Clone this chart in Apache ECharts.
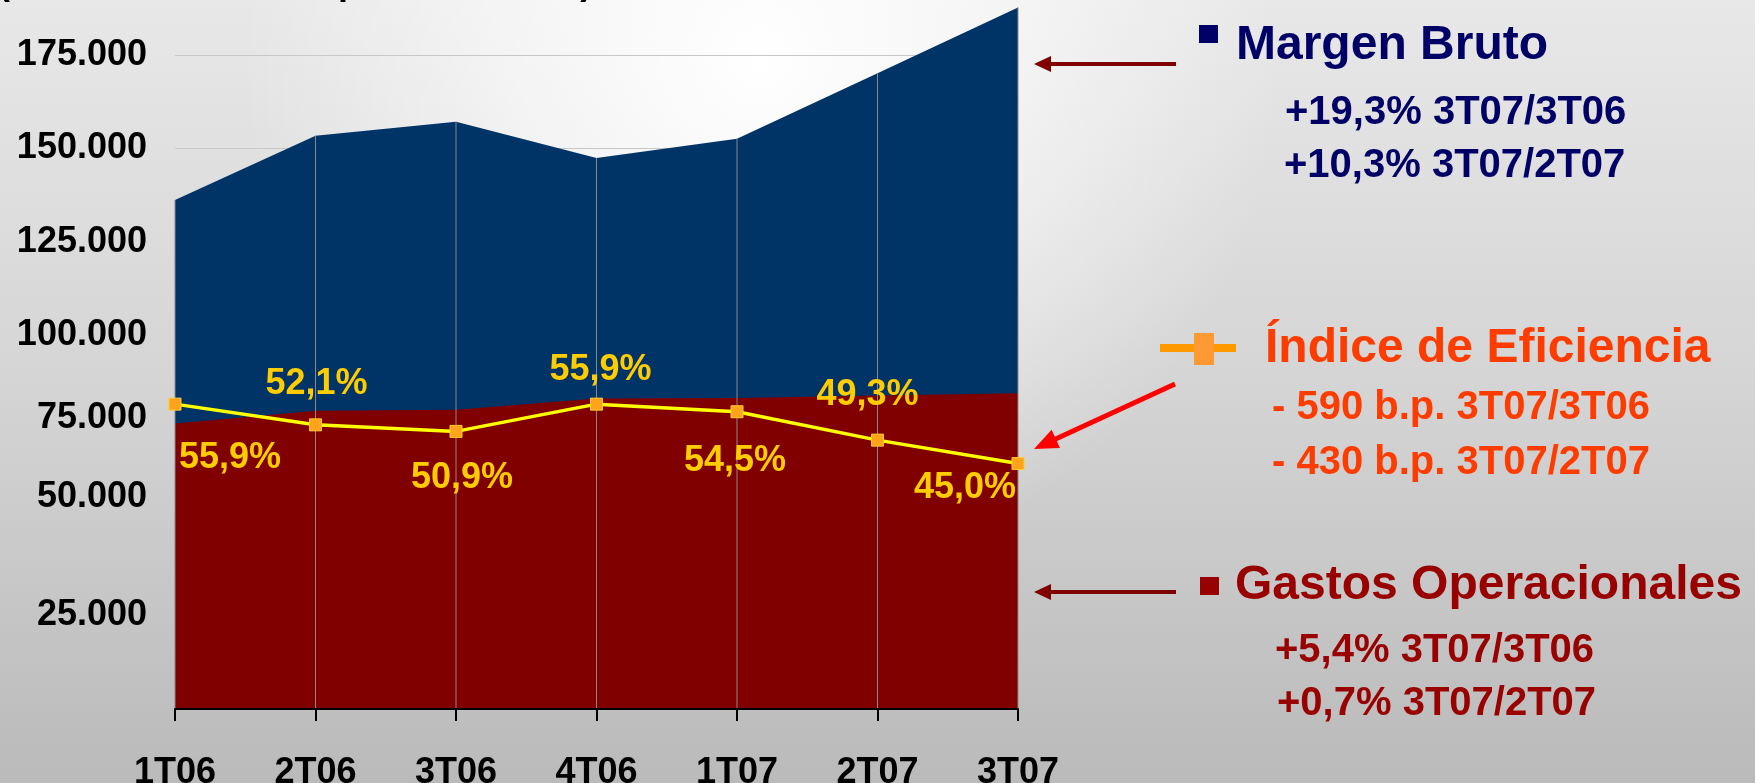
<!DOCTYPE html>
<html>
<head>
<meta charset="utf-8">
<title>Margen Bruto, Gastos Operacionales e Índice de Eficiencia</title>
<script src="https://cdn.jsdelivr.net/npm/echarts@6/dist/echarts.min.js"></script>
<style>
  html, body { margin: 0; padding: 0; }
  #chart { width: 1755px; height: 783px; }
</style>
</head>
<body>
<div id="chart"></div>
<script>
// datos (millones de $)
const categories = ['1T06', '2T06', '3T06', '4T06', '1T07', '2T07', '3T07'];
const margenBruto = [136200, 153400, 157100, 147400, 152600, 170100, 187700];
const gastosOperacionales = [76400, 79800, 80100, 83100, 83200, 83900, 84500];
const indiceEficiencia = [55.9, 52.1, 50.9, 55.9, 54.5, 49.3, 45.0];

// textos de la derecha
const margenTextos = ['+19,3% 3T07/3T06', '+10,3% 3T07/2T07'];
const eficienciaTextos = ['- 590 b.p. 3T07/3T06', '- 430 b.p. 3T07/2T07'];
const gastosTextos = ['+5,4% 3T07/3T06', '+0,7% 3T07/2T07'];

// desplazamiento de cada etiqueta del indice respecto a su punto
const labelOffsets = [[55, 54], [1, -41], [6, 47], [4, -34], [-2, 49], [-10, -45], [-53, 25]];

const FONT = "'Liberation Sans', Arial, sans-serif";

const chartInstance = echarts.init(document.getElementById('chart'));

function fmtMiles(v) {
  if (v === 0 || v % 25000 !== 0) return '';
  const s = String(v / 1000) + '.000';
  // 75.000 y 50.000 estan corridos hacia arriba en el original
  if (v === 75000) return '{up1|' + s + '}';
  if (v === 50000) return '{up2|' + s + '}';
  return s;
}

function flecha(x1, y1, x2, y2, color, width, headLen, headW) {
  // flecha de (x1,y1) a la punta (x2,y2)
  const dx = x2 - x1, dy = y2 - y1;
  const len = Math.sqrt(dx * dx + dy * dy);
  const ux = dx / len, uy = dy / len;
  const bx = x2 - ux * headLen, by = y2 - uy * headLen;
  const px = -uy * headW / 2, py = ux * headW / 2;
  return [
    {
      type: 'line', z: 100, silent: true,
      shape: {x1: x1, y1: y1, x2: bx + ux * 2, y2: by + uy * 2},
      style: {stroke: color, lineWidth: width}
    },
    {
      type: 'polygon', z: 100, silent: true,
      shape: {points: [[x2, y2], [bx + px, by + py], [bx - px, by - py]]},
      style: {fill: color}
    }
  ];
}

function texto(x, y, t, size, color) {
  // y = centro de las mayusculas
  return {
    type: 'text', z: 100, silent: true,
    x: x, y: y + size * 0.08,
    style: {
      text: t, fill: color,
      font: 'bold ' + size + 'px ' + FONT,
      align: 'left', verticalAlign: 'middle'
    }
  };
}

const graphics = [
  // brillo del fondo
  {
    type: 'circle', z: -10, silent: true,
    shape: {cx: 760, cy: 60, r: 520},
    style: {
      fill: new echarts.graphic.RadialGradient(0.5, 0.5, 0.5, [
        {offset: 0, color: 'rgba(255,255,255,1)'},
        {offset: 0.45, color: 'rgba(255,255,255,0.6)'},
        {offset: 1, color: 'rgba(255,255,255,0)'}
      ])
    }
  },
  // titulo cortado arriba
  {
    type: 'text', z: 100, silent: true, x: -2, y: 2,
    style: {
      text: '(Millones de $ de septiembre 2007)', fill: '#000000',
      font: 'bold 36px ' + FONT, align: 'left', verticalAlign: 'bottom'
    }
  },
  ...flecha(1176, 64, 1034, 64, '#7f0000', 4, 17, 16),
  {type: 'rect', z: 100, silent: true, shape: {x: 1199, y: 25, width: 19, height: 18}, style: {fill: '#000066'}},
  texto(1236, 42, 'Margen Bruto', 48, '#000066'),
  texto(1285, 110, margenTextos[0], 40, '#000066'),
  texto(1284, 163, margenTextos[1], 40, '#000066'),

  ...flecha(1175, 384, 1034, 449, '#ff0000', 5, 24, 20),
  {type: 'line', z: 100, silent: true, shape: {x1: 1160, y1: 348, x2: 1236, y2: 348}, style: {stroke: '#ff9900', lineWidth: 8}},
  {type: 'rect', z: 100, silent: true, shape: {x: 1194, y: 333, width: 20, height: 32}, style: {fill: '#ff9933'}},
  texto(1265, 345, 'Índice de Eficiencia', 48, '#ff3c00'),
  texto(1272, 405, eficienciaTextos[0], 40, '#ff3c00'),
  texto(1272, 460, eficienciaTextos[1], 40, '#ff3c00'),

  ...flecha(1176, 592, 1034, 592, '#7f0000', 4, 17, 16),
  {type: 'rect', z: 100, silent: true, shape: {x: 1200, y: 577, width: 19, height: 18}, style: {fill: '#990000'}},
  texto(1235, 582, 'Gastos Operacionales', 48, '#990000'),
  texto(1275, 648, gastosTextos[0], 40, '#990000'),
  texto(1277, 701, gastosTextos[1], 40, '#990000')
];

const option = {
  animation: false,
  backgroundColor: {
    type: 'linear', x: 0, y: 0, x2: 0, y2: 1,
    colorStops: [
      {offset: 0, color: '#e8e8e8'},
      {offset: 0.5, color: '#d4d4d4'},
      {offset: 1, color: '#bababa'}
    ]
  },
  grid: {
    left: 175,
    right: 737,
    top: 0,
    bottom: 74,
    containLabel: false,
    outerBoundsMode: 'none'
  },
  xAxis: {
    type: 'category',
    data: categories,
    boundaryGap: false,
    z: 10,
    axisLine: {show: true, lineStyle: {color: '#000000', width: 2}},
    axisTick: {show: true, alignWithLabel: true, length: 12, lineStyle: {color: '#000000', width: 2}},
    axisLabel: {
      margin: 46,
      color: '#000000',
      fontSize: 36,
      fontWeight: 'bold',
      fontFamily: FONT
    },
    splitLine: {show: false}
  },
  yAxis: [
    {
      type: 'value',
      min: 0,
      max: 189700,
      interval: 25000,
      axisLine: {show: false},
      axisTick: {show: false},
      axisLabel: {
        margin: 28,
        showMaxLabel: false,
        color: '#000000',
        fontSize: 36,
        fontWeight: 'bold',
        fontFamily: FONT,
        formatter: fmtMiles,
        rich: {
          up1: {fontSize: 36, fontWeight: 'bold', fontFamily: FONT, color: '#000000', padding: [0, 0, 22, 0]},
          up2: {fontSize: 36, fontWeight: 'bold', fontFamily: FONT, color: '#000000', padding: [0, 0, 50, 0]}
        }
      },
      splitLine: {show: true, showMaxLine: false, lineStyle: {color: '#c8c8c8', width: 1}}
    },
    {
      type: 'value',
      min: 0,
      max: 130,
      show: false,
      splitLine: {show: false}
    }
  ],
  series: [
    {
      name: 'Margen Bruto',
      type: 'line',
      data: margenBruto,
      symbol: 'none',
      lineStyle: {width: 0},
      areaStyle: {color: '#003366', opacity: 1},
      itemStyle: {color: '#003366'},
      silent: true
    },
    {
      name: 'Gastos Operacionales',
      type: 'line',
      data: gastosOperacionales,
      symbol: 'none',
      lineStyle: {width: 0},
      areaStyle: {color: '#800000', opacity: 1},
      itemStyle: {color: '#800000'},
      silent: true
    },
    {
      // lineas verticales de cada trimestre
      name: 'drop',
      type: 'bar',
      data: margenBruto,
      barWidth: 1,
      itemStyle: {color: '#8a8a8a'},
      z: 3,
      silent: true
    },
    {
      name: 'Índice de Eficiencia',
      type: 'line',
      yAxisIndex: 1,
      z: 5,
      data: indiceEficiencia.map(function (v, i) {
        return {value: v, label: {offset: labelOffsets[i]}};
      }),
      symbol: 'rect',
      symbolSize: 12,
      lineStyle: {color: '#ffff00', width: 3.5},
      itemStyle: {color: '#ffa31a', borderColor: '#ffcc33', borderWidth: 1},
      label: {
        show: true,
        position: 'inside',
        color: '#ffcc00',
        fontSize: 36,
        fontWeight: 'bold',
        fontFamily: FONT,
        formatter: function (p) {
          return p.value.toFixed(1).replace('.', ',') + '%';
        }
      },
      silent: true
    }
  ],
  graphic: graphics
};

chartInstance.setOption(option);
</script>
</body>
</html>
